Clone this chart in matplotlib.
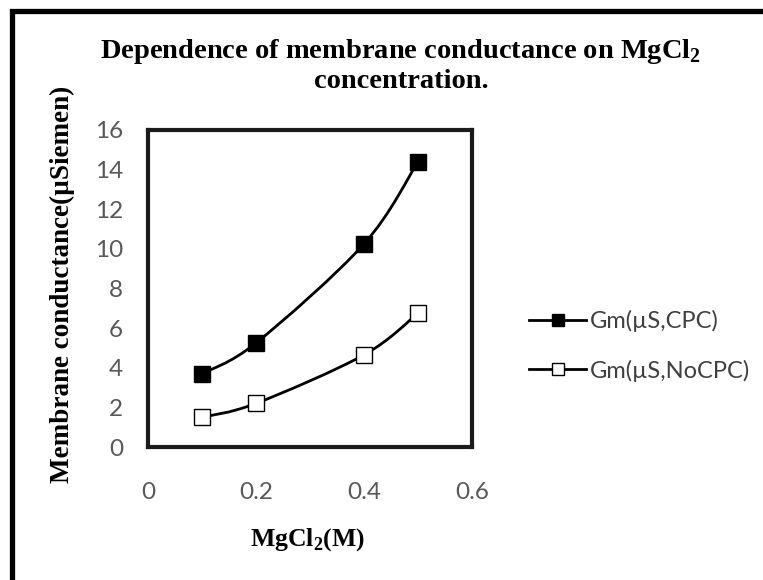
import numpy as np
import matplotlib.pyplot as plt
from matplotlib.path import Path
from matplotlib.patches import PathPatch, Rectangle
from matplotlib.lines import Line2D

# data
conc = [0.1, 0.2, 0.4, 0.5]
gm_cpc = [3.7, 5.25, 10.25, 14.4]
gm_nocpc = [1.5, 2.2, 4.65, 6.75]
labels = ['Gm(\u00b5S,CPC)', 'Gm(\u00b5S,NoCPC)']
xticks = [0, 0.2, 0.4, 0.6]
yticks = [0, 2, 4, 6, 8, 10, 12, 14, 16]

serif = 'Liberation Serif'
sans = 'Lato'
gray = '#595959'

plt.rcParams['mathtext.fontset'] = 'custom'
plt.rcParams['mathtext.rm'] = serif
plt.rcParams['mathtext.bf'] = serif + ':bold'


def smooth_path(xs, ys):
    # excel style smoothed line: cubic bezier pieces through the points
    pts = np.column_stack([xs, ys]).astype(float)
    n = len(pts)
    verts = [pts[0]]
    codes = [Path.MOVETO]
    for i in range(n - 1):
        p0 = pts[i - 1] if i > 0 else pts[i]
        p1 = pts[i]
        p2 = pts[i + 1]
        p3 = pts[i + 2] if i + 2 < n else pts[i + 1]
        c1 = p1 + (p2 - p0) / 6
        c2 = p2 - (p3 - p1) / 6
        verts += [c1, c2, p2]
        codes += [Path.CURVE4] * 3
    return Path(verts, codes)


fig = plt.figure(figsize=(7.63, 5.80), dpi=100)
fig.patch.set_facecolor('white')

# outer chart frame (cut by the image edges on right and bottom)
fig.patches.append(Rectangle((12 / 763, -0.05), 1.2, 1 - 11 / 580 + 0.05,
                             transform=fig.transFigure, fill=False,
                             edgecolor='black', linewidth=3.8))

ax = fig.add_axes([148 / 763, 133 / 580, 324 / 763, 317 / 580])
ax.set_xlim(0, 0.6)
ax.set_ylim(0, 16)

for ys, face in [(gm_cpc, 'black'), (gm_nocpc, 'white')]:
    ax.add_patch(PathPatch(smooth_path(conc, ys), facecolor='none',
                           edgecolor='black', linewidth=2.0, zorder=2))
    ax.plot(conc, ys, linestyle='none', marker='s', markersize=12,
            markerfacecolor=face, markeredgecolor='black',
            markeredgewidth=1.0, zorder=3)

ax.set_xticks(xticks)
ax.set_xticklabels(['0', '0.2', '0.4', '0.6'])
ax.set_yticks(yticks)
ax.tick_params(length=0, labelsize=17.5, labelcolor=gray)
ax.tick_params(axis='y', pad=18)
ax.tick_params(axis='x', pad=25)
for lab in ax.get_xticklabels() + ax.get_yticklabels():
    lab.set_family(sans)
for sp in ax.spines.values():
    sp.set_linewidth(3.0)
    sp.set_color('#1a1a1a')

fig.text(401 / 763, 1 - 52 / 580, 'Dependence of membrane conductance on MgCl$_\\mathbf{2}$',
         ha='center', va='center', fontsize=20.5, fontweight='bold', family=serif)
fig.text(401 / 763, 1 - 82 / 580, 'concentration.', ha='center', va='center',
         fontsize=20.5, fontweight='bold', family=serif)
fig.text(62 / 763, 1 - 284 / 580, 'Membrane conductance(\u00b5Siemen)', rotation=90,
         ha='center', va='center', fontsize=19.5, fontweight='bold', family=serif)
fig.text(308 / 763, 1 - 540 / 580, 'MgCl$_\\mathbf{2}$(M)', ha='center', va='center',
         fontsize=18.5, fontweight='bold', family=serif)

handles = [Line2D([], [], color='black', linewidth=2.0, marker='s', markersize=8,
                  markerfacecolor=f, markeredgecolor='black', markeredgewidth=1.0)
           for f in ['black', 'white']]
leg = fig.legend(handles, labels, loc='center left',
                 bbox_to_anchor=(508 / 763, 1 - 346 / 580), frameon=False,
                 handlelength=2.4, handletextpad=0.15, labelspacing=1.15,
                 prop={'family': sans, 'size': 17})
for t in leg.get_texts():
    t.set_color('#404040')

fig.savefig('out.png', dpi=100)
